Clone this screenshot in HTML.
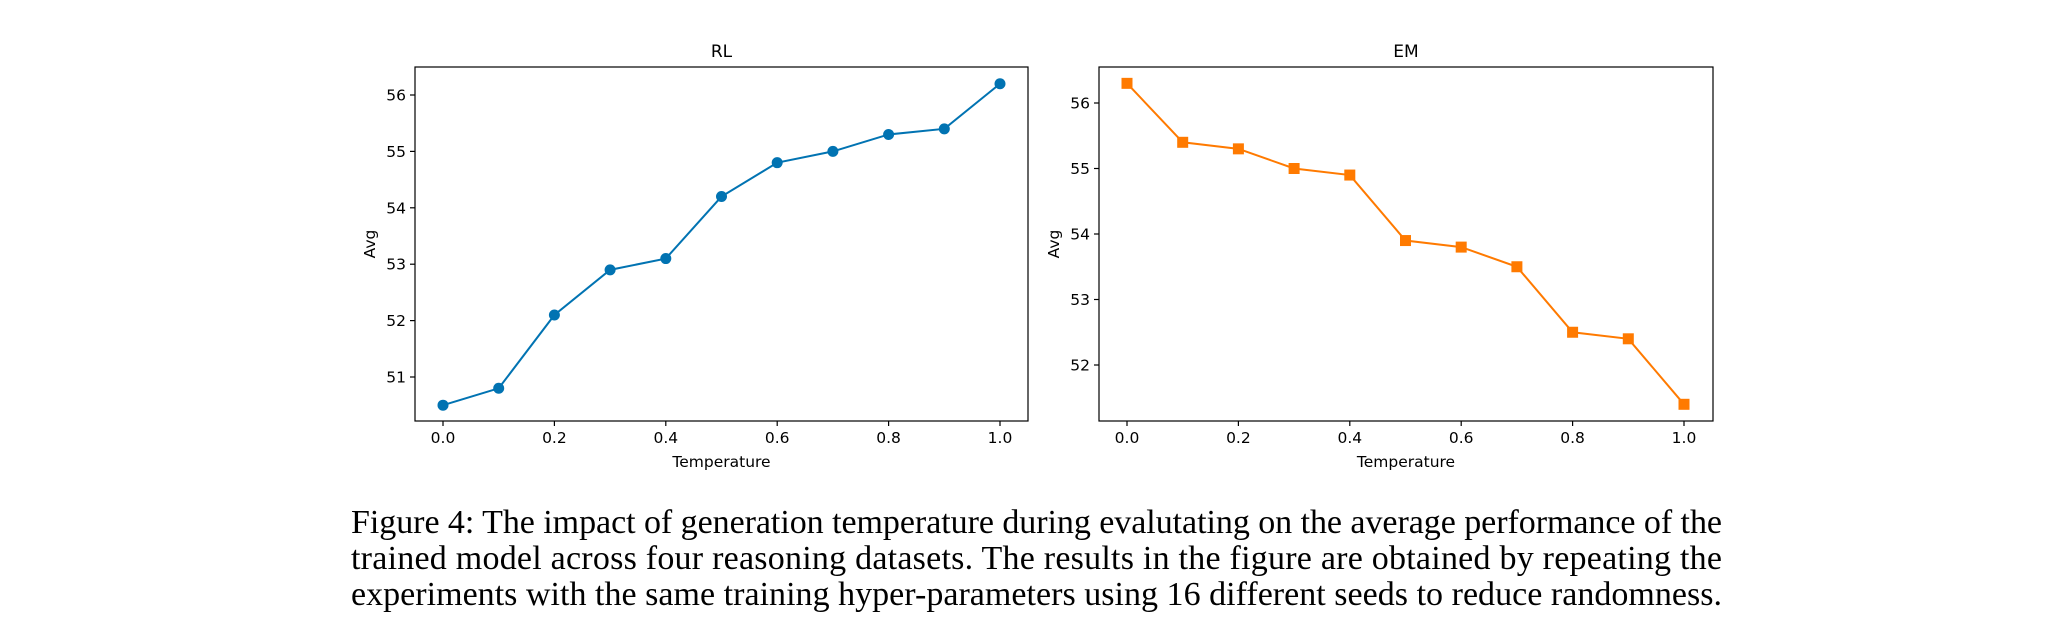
<!DOCTYPE html>
<html><head><meta charset="utf-8">
<style>
html,body{margin:0;padding:0;background:#fff;}
body{width:2064px;height:640px;position:relative;overflow:hidden;}
svg{position:absolute;left:0;top:0;}
</style></head>
<body>
<svg id="chart" width="2064" height="640" xmlns="http://www.w3.org/2000/svg" font-family="DejaVu Sans, Liberation Sans, sans-serif">
<g font-family="Liberation Serif, serif" font-size="34" fill="#000">
<text x="351" y="533" textLength="1371" lengthAdjust="spacing">Figure 4: The impact of generation temperature during evalutating on the average performance of the</text>
<text x="351" y="569" textLength="1371" lengthAdjust="spacing">trained model across four reasoning datasets. The results in the figure are obtained by repeating the</text>
<text x="351" y="605" textLength="1371" lengthAdjust="spacing">experiments with the same training hyper-parameters using 16 different seeds to reduce randomness.</text>
</g>
</svg>
<script>
const temps = [0.0,0.1,0.2,0.3,0.4,0.5,0.6,0.7,0.8,0.9,1.0];
const rlValues = [50.5,50.8,52.1,52.9,53.1,54.2,54.8,55.0,55.3,55.4,56.2];
const emValues = [56.3,55.4,55.3,55.0,54.9,53.9,53.8,53.5,52.5,52.4,51.4];
const xTicks = [0.0,0.2,0.4,0.6,0.8,1.0];
const rlYTicks = [51,52,53,54,55,56];
const emYTicks = [52,53,54,55,56];

const NS='http://www.w3.org/2000/svg';
const svg=document.getElementById('chart');
function mk(tag,attrs,parent){const e=document.createElementNS(NS,tag);for(const k in attrs)e.setAttribute(k,attrs[k]);(parent||svg).appendChild(e);return e;}

function panel(cfg){
  const g=mk('g',{});
  
  
  const xs=v=>cfg.px0+(v-0)*(cfg.px1-cfg.px0)/1.0;
  const ys=v=>cfg.yPix0+(v-cfg.yVal0)*(cfg.yPix1-cfg.yPix0)/(cfg.yVal1-cfg.yVal0);
  xTicks.forEach(t=>{
    const x=xs(t);
    mk('line',{x1:x,x2:x,y1:cfg.B,y2:cfg.B+5,stroke:'#000','stroke-width':1.2},g);
    const tx=mk('text',{x:x,y:cfg.B+22,'font-size':15.5,'text-anchor':'middle',fill:'#000'},g);
    tx.textContent=t.toFixed(1);
    
    
  });
  cfg.yTicks.forEach(t=>{
    const y=ys(t);
    mk('line',{x1:cfg.L-5,x2:cfg.L,y1:y,y2:y,stroke:'#000','stroke-width':1.2},g);
    const tx=mk('text',{x:cfg.L-9,y:y+5.5,'font-size':15.5,'text-anchor':'end',fill:'#000'},g);
    tx.textContent=String(t);
    
    
  });
  const pts=cfg.values.map((v,i)=>xs(temps[i])+','+ys(v)).join(' ');
  const pl=mk('polyline',{points:pts,fill:'none',stroke:cfg.color,'stroke-width':2},g);
  
  
  cfg.values.forEach((v,i)=>{
    const x=xs(temps[i]),y=ys(v);
    let m;
    if(cfg.marker==='circle') m=mk('circle',{cx:x,cy:y,r:5.5,fill:cfg.color},g);
    else m=mk('rect',{x:x-5.5,y:y-5.5,width:11,height:11,fill:cfg.color},g);
    
    
  });
  const fr=mk('rect',{x:cfg.L,y:cfg.T,width:cfg.R-cfg.L,height:cfg.B-cfg.T,fill:'none',stroke:'#000','stroke-width':1.2},g);
  
  
  const ti=mk('text',{x:(cfg.L+cfg.R)/2,y:cfg.T-10,'font-size':17,'text-anchor':'middle',fill:'#000'},g);
  ti.textContent=cfg.title;
  
  
  const xl=mk('text',{x:(cfg.L+cfg.R)/2,y:cfg.B+46,'font-size':15.5,'text-anchor':'middle',fill:'#000'},g);
  xl.textContent='Temperature';
  
  
  const yc=(cfg.T+cfg.B)/2;
  const yl=mk('text',{x:cfg.yLabelX,y:yc,'font-size':15.5,'text-anchor':'middle',fill:'#000',transform:'rotate(-90 '+cfg.yLabelX+' '+yc+')'},g);
  yl.textContent='Avg';
  
  
}

panel({name:'rl',title:'RL',L:415,R:1028,T:67,B:421,px0:443,px1:1000,yVal0:51,yPix0:377,yVal1:56,yPix1:95,yTicks:rlYTicks,values:rlValues,color:'#0173b2',marker:'circle',yLabelX:375});
panel({name:'em',title:'EM',L:1099,R:1713,T:67,B:421,px0:1127,px1:1684,yVal0:52,yPix0:365,yVal1:56,yPix1:103,yTicks:emYTicks,values:emValues,color:'#ff7a00',marker:'square',yLabelX:1059});
</script>
</body></html>
